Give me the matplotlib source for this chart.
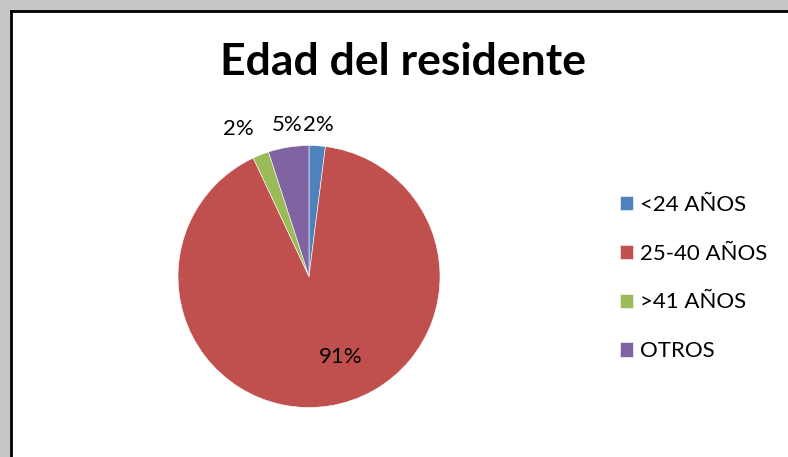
import matplotlib
matplotlib.use('Agg')

import numpy as np
import matplotlib.pyplot as plt
from matplotlib.patches import Rectangle
from matplotlib.lines import Line2D

title = "Edad del residente"
categories = ["<24 AÑOS", "25-40 AÑOS", ">41 AÑOS", "OTROS"]
values = [2, 91, 2, 5]
colors = ["#4F81BD", "#C0504D", "#9BBB59", "#8064A2"]

# label placement (radius factor, angle shift in degrees) - mimics excel best fit
lab_r = [1.16, 0.66, 1.25, 1.17]
lab_shift = [0, 12.6, 4, -1]

plt.rcParams['font.family'] = ['Lato', 'DejaVu Sans']

W, H = 788, 457
fig = plt.figure(figsize=(W / 100, H / 100), dpi=100)
fig.patch.set_facecolor('white')

# excel-like frame with shadow on left/top
fig.patches.append(Rectangle((0, 0), 10 / W, 1, transform=fig.transFigure,
                             color='#c6c6c6', zorder=0))
fig.patches.append(Rectangle((0, 1 - 10 / H), 1, 10 / H, transform=fig.transFigure,
                             color='#c6c6c6', zorder=0))
fig.lines.append(Line2D([11 / W, 11 / W], [0, 1 - 11 / H], transform=fig.transFigure,
                        color='black', lw=2))
fig.lines.append(Line2D([11 / W, 1], [1 - 11 / H, 1 - 11 / H], transform=fig.transFigure,
                        color='black', lw=2))

ax = fig.add_axes([178 / W, (H - 407.5) / H, 262 / W, 262 / H])
wedges, _ = ax.pie(values, colors=colors, startangle=90, counterclock=False,
                   wedgeprops={'linewidth': 0.4, 'edgecolor': 'white'})
ax.set_xlim(-1, 1)
ax.set_ylim(-1, 1)
ax.set_aspect('equal')

tot = sum(values)
for w, v, r, s in zip(wedges, values, lab_r, lab_shift):
    ang = np.deg2rad((w.theta1 + w.theta2) / 2 + s)
    ax.text(r * np.cos(ang), r * np.sin(ang), "%d%%" % round(100 * v / tot),
            ha='center', va='center', fontsize=16, clip_on=False)

fig.text(403 / W, 1 - 62 / H, title, ha='center', va='center',
         fontsize=32, fontweight='bold')

fig.legend(wedges, categories, loc='center left', bbox_to_anchor=(600 / W, 1 - 278 / H),
           frameon=False, fontsize=16, handlelength=0.6, handleheight=0.6,
           handletextpad=0.3, labelspacing=1.3)

fig.savefig('out.png', dpi=100)
